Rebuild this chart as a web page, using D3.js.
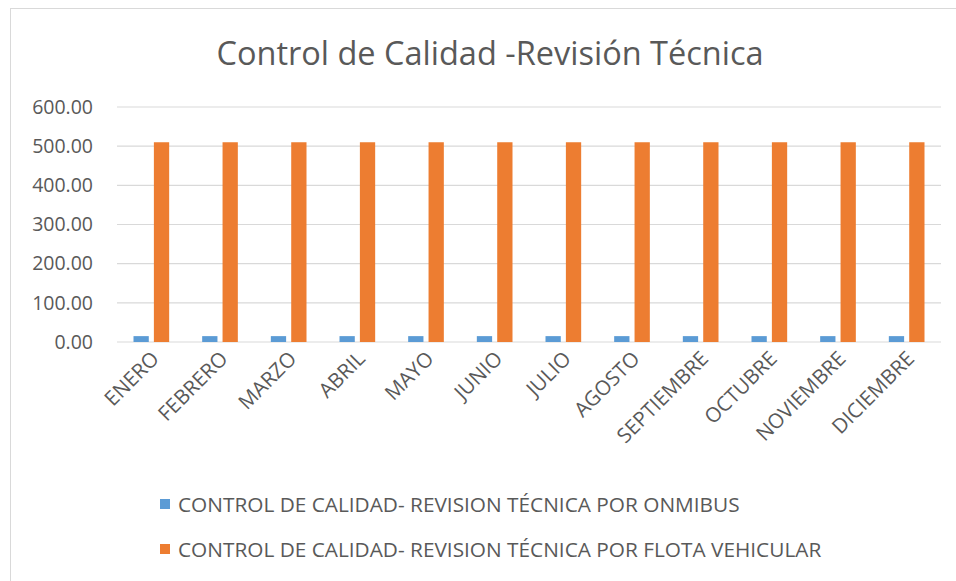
<!DOCTYPE html>
<html>
<head>
<meta charset="utf-8">
<script src="https://cdn.jsdelivr.net/npm/d3@7"></script>
<style>
  body { margin: 0; background: #fff; }
  text { font-family: "Open Sans", sans-serif; fill: #595959; }
</style>
</head>
<body>
<div id="chart"></div>
<script>
// data
const months = ["ENERO", "FEBRERO", "MARZO", "ABRIL", "MAYO", "JUNIO", "JULIO",
  "AGOSTO", "SEPTIEMBRE", "OCTUBRE", "NOVIEMBRE", "DICIEMBRE"];
const seriesNames = [
  "CONTROL DE CALIDAD- REVISION TÉCNICA POR ONMIBUS",
  "CONTROL DE CALIDAD- REVISION TÉCNICA POR FLOTA VEHICULAR"
];
const omnibus = [15, 15, 15, 15, 15, 15, 15, 15, 15, 15, 15, 15];
const flota = [510, 510, 510, 510, 510, 510, 510, 510, 510, 510, 510, 510];
const yTicks = [0, 100, 200, 300, 400, 500, 600];
const colors = ["#5B9BD5", "#ED7D31"];

// chart size
const width = 956;
const height = 581;
const margin = { top: 107, right: 15, bottom: 239, left: 117 };

const svg = d3.select("#chart")
  .append("svg")
  .attr("width", width)
  .attr("height", height);

// outer border
svg.append("rect")
  .attr("x", 10.5).attr("y", 8.5)
  .attr("width", 1000).attr("height", 1000)
  .attr("fill", "none")
  .attr("stroke", "#D9D9D9");

// title
svg.append("text")
  .attr("x", 490).attr("y", 65)
  .attr("text-anchor", "middle")
  .style("font-size", "32.5px")
  .text("Control de Calidad -Revisión Técnica");

const x = d3.scaleBand()
  .domain(months)
  .range([margin.left, width - margin.right]);

const xSub = d3.scaleBand()
  .domain([0, 1])
  .range([16.5, x.bandwidth() - 16.5])
  .paddingInner(0.25);

const y = d3.scaleLinear()
  .domain([0, 600])
  .range([height - margin.bottom, margin.top]);

// gridlines
svg.append("g")
  .selectAll("line")
  .data(yTicks)
  .join("line")
  .attr("x1", margin.left).attr("x2", width - margin.right)
  .attr("y1", d => y(d)).attr("y2", d => y(d))
  .attr("stroke", "#D9D9D9")
  .attr("stroke-width", 1.2);

// y axis labels
const yAxis = svg.append("g")
  .attr("transform", `translate(${margin.left},0)`)
  .call(d3.axisLeft(y).tickValues(yTicks).tickFormat(d3.format(".2f")).tickSize(0).tickPadding(24));
yAxis.select(".domain").remove();
yAxis.selectAll("text")
  .style("font-size", "19.5px")
  .style("font-family", "'Open Sans', sans-serif")
  .attr("fill", "#595959");

// bars
const data = months.map((m, i) => ({ month: m, values: [omnibus[i], flota[i]] }));
const groups = svg.append("g")
  .selectAll("g")
  .data(data)
  .join("g")
  .attr("transform", d => `translate(${x(d.month)},0)`);

groups.selectAll("rect")
  .data(d => d.values.map((v, k) => ({ k, v })))
  .join("rect")
  .attr("x", d => xSub(d.k))
  .attr("width", xSub.bandwidth())
  .attr("y", d => y(d.v))
  .attr("height", d => y(0) - y(d.v))
  .attr("fill", d => colors[d.k]);

// x axis labels
const xAxis = svg.append("g")
  .attr("transform", `translate(0,${y(0)})`)
  .call(d3.axisBottom(x).tickSize(0).tickPadding(0));
xAxis.select(".domain").remove();
xAxis.selectAll("text")
  .style("font-size", "20.5px")
  .style("font-family", "'Open Sans', sans-serif")
  .attr("fill", "#595959")
  .attr("text-anchor", "end")
  .attr("dy", 0)
  .attr("transform", "translate(9,18) rotate(-45)");

// legend
const legend = svg.append("g")
  .selectAll("g")
  .data(seriesNames)
  .join("g")
  .attr("transform", (d, i) => `translate(160,${504 + i * 45})`);

legend.append("rect")
  .attr("x", 0).attr("y", -5)
  .attr("width", 10).attr("height", 10)
  .attr("fill", (d, i) => colors[i]);

legend.append("text")
  .attr("x", 18).attr("y", 7.5)
  .style("font-size", "20.8px")
  .text(d => d);
</script>
</body>
</html>
